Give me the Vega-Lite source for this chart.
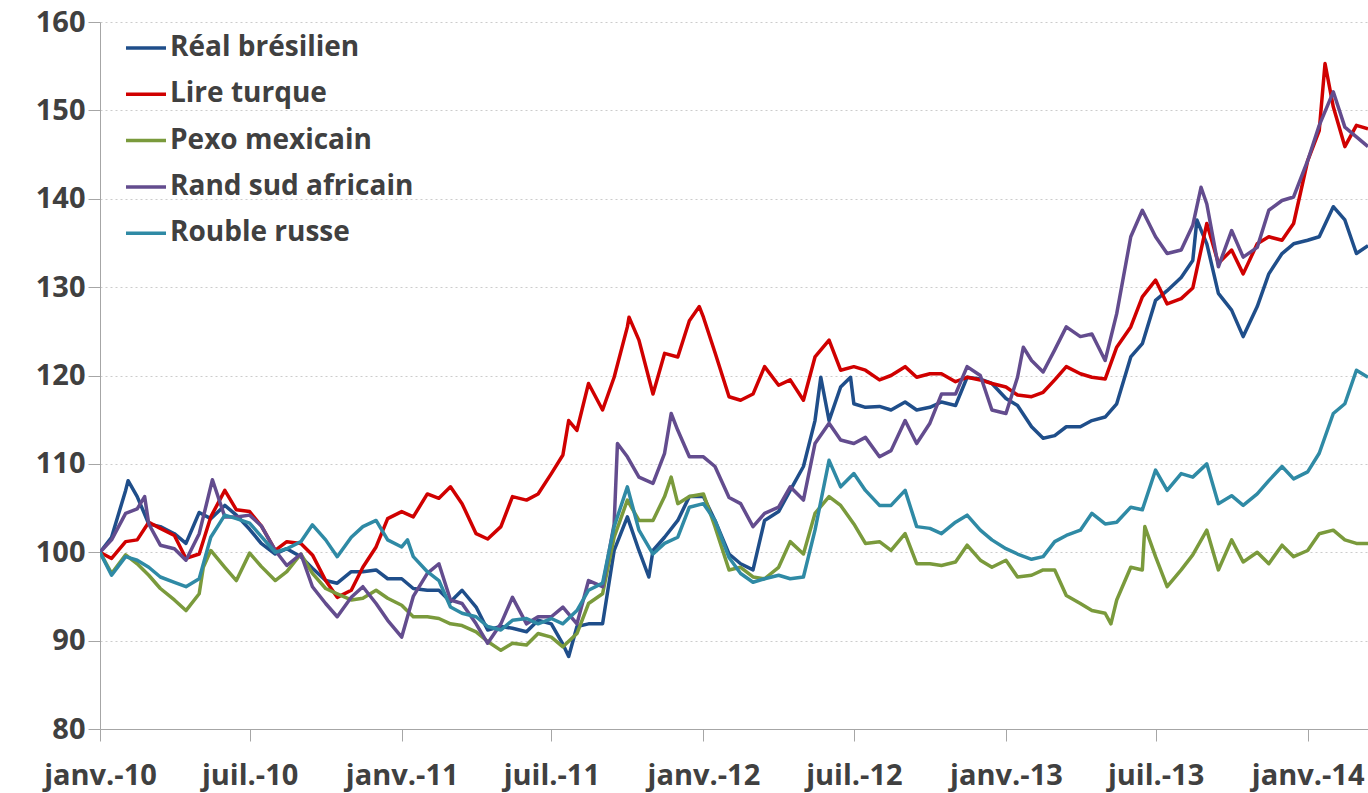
{
"$schema": "https://vega.github.io/schema/vega-lite/v6.json",
"width": 1268, "height": 707,
"autosize": {"type": "none"},
"padding": {"left": 100, "top": 22, "right": 0, "bottom": 64},
"background": "white",
"config": {"view": {"stroke": null}, "font": "Open Sans"},
"data": {"values": [
{"date":"2010-01-01","currency":"Réal brésilien","value":100},
{"date":"2010-01-15","currency":"Réal brésilien","value":101.7},
{"date":"2010-02-01","currency":"Réal brésilien","value":107},
{"date":"2010-02-04","currency":"Réal brésilien","value":108.1},
{"date":"2010-02-15","currency":"Réal brésilien","value":106.3},
{"date":"2010-03-01","currency":"Réal brésilien","value":103.2},
{"date":"2010-03-15","currency":"Réal brésilien","value":102.9},
{"date":"2010-04-01","currency":"Réal brésilien","value":102.1},
{"date":"2010-04-15","currency":"Réal brésilien","value":101},
{"date":"2010-05-01","currency":"Réal brésilien","value":104.5},
{"date":"2010-05-15","currency":"Réal brésilien","value":103.8},
{"date":"2010-06-01","currency":"Réal brésilien","value":105.3},
{"date":"2010-06-15","currency":"Réal brésilien","value":104.2},
{"date":"2010-07-01","currency":"Réal brésilien","value":102.6},
{"date":"2010-07-15","currency":"Réal brésilien","value":101},
{"date":"2010-08-01","currency":"Réal brésilien","value":99.8},
{"date":"2010-08-15","currency":"Réal brésilien","value":100.4},
{"date":"2010-09-01","currency":"Réal brésilien","value":99.5},
{"date":"2010-09-15","currency":"Réal brésilien","value":98.2},
{"date":"2010-10-01","currency":"Réal brésilien","value":96.8},
{"date":"2010-10-15","currency":"Réal brésilien","value":96.5},
{"date":"2010-11-01","currency":"Réal brésilien","value":97.8},
{"date":"2010-11-15","currency":"Réal brésilien","value":97.8},
{"date":"2010-12-01","currency":"Réal brésilien","value":98},
{"date":"2010-12-15","currency":"Réal brésilien","value":97},
{"date":"2011-01-01","currency":"Réal brésilien","value":97},
{"date":"2011-01-15","currency":"Réal brésilien","value":95.9},
{"date":"2011-02-01","currency":"Réal brésilien","value":95.7},
{"date":"2011-02-15","currency":"Réal brésilien","value":95.7},
{"date":"2011-03-01","currency":"Réal brésilien","value":94.4},
{"date":"2011-03-15","currency":"Réal brésilien","value":95.7},
{"date":"2011-04-01","currency":"Réal brésilien","value":93.8},
{"date":"2011-04-15","currency":"Réal brésilien","value":91.2},
{"date":"2011-05-01","currency":"Réal brésilien","value":91.6},
{"date":"2011-05-15","currency":"Réal brésilien","value":91.4},
{"date":"2011-06-01","currency":"Réal brésilien","value":91},
{"date":"2011-06-15","currency":"Réal brésilien","value":92.3},
{"date":"2011-07-01","currency":"Réal brésilien","value":91.9},
{"date":"2011-07-15","currency":"Réal brésilien","value":89.6},
{"date":"2011-07-22","currency":"Réal brésilien","value":88.2},
{"date":"2011-08-01","currency":"Réal brésilien","value":91.6},
{"date":"2011-08-15","currency":"Réal brésilien","value":91.9},
{"date":"2011-09-01","currency":"Réal brésilien","value":91.9},
{"date":"2011-09-15","currency":"Réal brésilien","value":100.2},
{"date":"2011-10-01","currency":"Réal brésilien","value":104},
{"date":"2011-10-15","currency":"Réal brésilien","value":100.2},
{"date":"2011-10-27","currency":"Réal brésilien","value":97.2},
{"date":"2011-11-01","currency":"Réal brésilien","value":100.2},
{"date":"2011-11-15","currency":"Réal brésilien","value":101.7},
{"date":"2011-12-01","currency":"Réal brésilien","value":103.6},
{"date":"2011-12-15","currency":"Réal brésilien","value":106.3},
{"date":"2012-01-01","currency":"Réal brésilien","value":106.3},
{"date":"2012-01-15","currency":"Réal brésilien","value":103.6},
{"date":"2012-02-01","currency":"Réal brésilien","value":99.8},
{"date":"2012-02-15","currency":"Réal brésilien","value":98.7},
{"date":"2012-03-01","currency":"Réal brésilien","value":98},
{"date":"2012-03-15","currency":"Réal brésilien","value":103.6},
{"date":"2012-04-01","currency":"Réal brésilien","value":104.6},
{"date":"2012-04-15","currency":"Réal brésilien","value":107},
{"date":"2012-05-01","currency":"Réal brésilien","value":109.7},
{"date":"2012-05-15","currency":"Réal brésilien","value":114.9},
{"date":"2012-05-22","currency":"Réal brésilien","value":119.8},
{"date":"2012-06-01","currency":"Réal brésilien","value":114.9},
{"date":"2012-06-15","currency":"Réal brésilien","value":118.7},
{"date":"2012-06-27","currency":"Réal brésilien","value":119.8},
{"date":"2012-07-01","currency":"Réal brésilien","value":116.8},
{"date":"2012-07-15","currency":"Réal brésilien","value":116.4},
{"date":"2012-08-01","currency":"Réal brésilien","value":116.5},
{"date":"2012-08-15","currency":"Réal brésilien","value":116.1},
{"date":"2012-09-01","currency":"Réal brésilien","value":117},
{"date":"2012-09-15","currency":"Réal brésilien","value":116.1},
{"date":"2012-10-01","currency":"Réal brésilien","value":116.4},
{"date":"2012-10-15","currency":"Réal brésilien","value":117},
{"date":"2012-11-01","currency":"Réal brésilien","value":116.6},
{"date":"2012-11-15","currency":"Réal brésilien","value":119.8},
{"date":"2012-12-01","currency":"Réal brésilien","value":119.6},
{"date":"2012-12-15","currency":"Réal brésilien","value":119.1},
{"date":"2013-01-01","currency":"Réal brésilien","value":117.4},
{"date":"2013-01-15","currency":"Réal brésilien","value":116.6},
{"date":"2013-02-01","currency":"Réal brésilien","value":114.2},
{"date":"2013-02-15","currency":"Réal brésilien","value":112.9},
{"date":"2013-03-01","currency":"Réal brésilien","value":113.2},
{"date":"2013-03-15","currency":"Réal brésilien","value":114.2},
{"date":"2013-04-01","currency":"Réal brésilien","value":114.2},
{"date":"2013-04-15","currency":"Réal brésilien","value":114.9},
{"date":"2013-05-01","currency":"Réal brésilien","value":115.3},
{"date":"2013-05-15","currency":"Réal brésilien","value":116.8},
{"date":"2013-06-01","currency":"Réal brésilien","value":122.1},
{"date":"2013-06-15","currency":"Réal brésilien","value":123.6},
{"date":"2013-07-01","currency":"Réal brésilien","value":128.5},
{"date":"2013-07-15","currency":"Réal brésilien","value":129.6},
{"date":"2013-08-01","currency":"Réal brésilien","value":131.1},
{"date":"2013-08-15","currency":"Réal brésilien","value":133},
{"date":"2013-08-20","currency":"Réal brésilien","value":137.6},
{"date":"2013-09-01","currency":"Réal brésilien","value":134.9},
{"date":"2013-09-15","currency":"Réal brésilien","value":129.3},
{"date":"2013-10-01","currency":"Réal brésilien","value":127.4},
{"date":"2013-10-15","currency":"Réal brésilien","value":124.4},
{"date":"2013-11-01","currency":"Réal brésilien","value":127.8},
{"date":"2013-11-15","currency":"Réal brésilien","value":131.5},
{"date":"2013-12-01","currency":"Réal brésilien","value":133.8},
{"date":"2013-12-15","currency":"Réal brésilien","value":134.9},
{"date":"2014-01-01","currency":"Réal brésilien","value":135.3},
{"date":"2014-01-15","currency":"Réal brésilien","value":135.7},
{"date":"2014-02-01","currency":"Réal brésilien","value":139.1},
{"date":"2014-02-15","currency":"Réal brésilien","value":137.6},
{"date":"2014-03-01","currency":"Réal brésilien","value":133.8},
{"date":"2014-03-15","currency":"Réal brésilien","value":134.7},

{"date":"2010-01-01","currency":"Lire turque","value":100},
{"date":"2010-01-15","currency":"Lire turque","value":99.3},
{"date":"2010-02-01","currency":"Lire turque","value":101.2},
{"date":"2010-02-15","currency":"Lire turque","value":101.4},
{"date":"2010-03-01","currency":"Lire turque","value":103.4},
{"date":"2010-03-15","currency":"Lire turque","value":102.7},
{"date":"2010-04-01","currency":"Lire turque","value":101.9},
{"date":"2010-04-15","currency":"Lire turque","value":99.3},
{"date":"2010-05-01","currency":"Lire turque","value":99.8},
{"date":"2010-05-15","currency":"Lire turque","value":104},
{"date":"2010-06-01","currency":"Lire turque","value":107},
{"date":"2010-06-15","currency":"Lire turque","value":104.8},
{"date":"2010-07-01","currency":"Lire turque","value":104.6},
{"date":"2010-07-15","currency":"Lire turque","value":103},
{"date":"2010-08-01","currency":"Lire turque","value":100.2},
{"date":"2010-08-15","currency":"Lire turque","value":101.2},
{"date":"2010-09-01","currency":"Lire turque","value":101},
{"date":"2010-09-15","currency":"Lire turque","value":99.7},
{"date":"2010-10-01","currency":"Lire turque","value":96.8},
{"date":"2010-10-15","currency":"Lire turque","value":94.9},
{"date":"2010-11-01","currency":"Lire turque","value":95.7},
{"date":"2010-11-15","currency":"Lire turque","value":98.3},
{"date":"2010-12-01","currency":"Lire turque","value":100.6},
{"date":"2010-12-15","currency":"Lire turque","value":103.8},
{"date":"2011-01-01","currency":"Lire turque","value":104.6},
{"date":"2011-01-15","currency":"Lire turque","value":104},
{"date":"2011-02-01","currency":"Lire turque","value":106.6},
{"date":"2011-02-15","currency":"Lire turque","value":106.1},
{"date":"2011-03-01","currency":"Lire turque","value":107.4},
{"date":"2011-03-15","currency":"Lire turque","value":105.5},
{"date":"2011-04-01","currency":"Lire turque","value":102.1},
{"date":"2011-04-15","currency":"Lire turque","value":101.5},
{"date":"2011-05-01","currency":"Lire turque","value":102.9},
{"date":"2011-05-15","currency":"Lire turque","value":106.3},
{"date":"2011-06-01","currency":"Lire turque","value":105.9},
{"date":"2011-06-15","currency":"Lire turque","value":106.6},
{"date":"2011-07-01","currency":"Lire turque","value":108.9},
{"date":"2011-07-15","currency":"Lire turque","value":111},
{"date":"2011-07-22","currency":"Lire turque","value":114.9},
{"date":"2011-08-01","currency":"Lire turque","value":113.8},
{"date":"2011-08-15","currency":"Lire turque","value":119.1},
{"date":"2011-09-01","currency":"Lire turque","value":116.1},
{"date":"2011-09-15","currency":"Lire turque","value":119.8},
{"date":"2011-10-01","currency":"Lire turque","value":125.5},
{"date":"2011-10-03","currency":"Lire turque","value":126.6},
{"date":"2011-10-15","currency":"Lire turque","value":124},
{"date":"2011-11-01","currency":"Lire turque","value":117.9},
{"date":"2011-11-15","currency":"Lire turque","value":122.5},
{"date":"2011-12-01","currency":"Lire turque","value":122.1},
{"date":"2011-12-15","currency":"Lire turque","value":126.2},
{"date":"2011-12-27","currency":"Lire turque","value":127.8},
{"date":"2012-01-01","currency":"Lire turque","value":126.6},
{"date":"2012-01-15","currency":"Lire turque","value":122.6},
{"date":"2012-02-01","currency":"Lire turque","value":117.6},
{"date":"2012-02-15","currency":"Lire turque","value":117.2},
{"date":"2012-03-01","currency":"Lire turque","value":117.9},
{"date":"2012-03-15","currency":"Lire turque","value":121},
{"date":"2012-04-01","currency":"Lire turque","value":118.9},
{"date":"2012-04-15","currency":"Lire turque","value":119.5},
{"date":"2012-05-01","currency":"Lire turque","value":117.2},
{"date":"2012-05-15","currency":"Lire turque","value":122.1},
{"date":"2012-06-01","currency":"Lire turque","value":124},
{"date":"2012-06-15","currency":"Lire turque","value":120.6},
{"date":"2012-07-01","currency":"Lire turque","value":121},
{"date":"2012-07-15","currency":"Lire turque","value":120.6},
{"date":"2012-08-01","currency":"Lire turque","value":119.5},
{"date":"2012-08-15","currency":"Lire turque","value":120},
{"date":"2012-09-01","currency":"Lire turque","value":121},
{"date":"2012-09-15","currency":"Lire turque","value":119.8},
{"date":"2012-10-01","currency":"Lire turque","value":120.2},
{"date":"2012-10-15","currency":"Lire turque","value":120.2},
{"date":"2012-11-01","currency":"Lire turque","value":119.3},
{"date":"2012-11-15","currency":"Lire turque","value":119.8},
{"date":"2012-12-01","currency":"Lire turque","value":119.5},
{"date":"2012-12-15","currency":"Lire turque","value":119.1},
{"date":"2013-01-01","currency":"Lire turque","value":118.7},
{"date":"2013-01-15","currency":"Lire turque","value":117.8},
{"date":"2013-02-01","currency":"Lire turque","value":117.6},
{"date":"2013-02-15","currency":"Lire turque","value":118.1},
{"date":"2013-03-01","currency":"Lire turque","value":119.5},
{"date":"2013-03-15","currency":"Lire turque","value":121},
{"date":"2013-04-01","currency":"Lire turque","value":120.2},
{"date":"2013-04-15","currency":"Lire turque","value":119.8},
{"date":"2013-05-01","currency":"Lire turque","value":119.6},
{"date":"2013-05-15","currency":"Lire turque","value":123.2},
{"date":"2013-06-01","currency":"Lire turque","value":125.5},
{"date":"2013-06-15","currency":"Lire turque","value":128.9},
{"date":"2013-07-01","currency":"Lire turque","value":130.8},
{"date":"2013-07-15","currency":"Lire turque","value":128.1},
{"date":"2013-08-01","currency":"Lire turque","value":128.7},
{"date":"2013-08-15","currency":"Lire turque","value":129.9},
{"date":"2013-09-01","currency":"Lire turque","value":137.2},
{"date":"2013-09-15","currency":"Lire turque","value":132.7},
{"date":"2013-10-01","currency":"Lire turque","value":134.2},
{"date":"2013-10-15","currency":"Lire turque","value":131.5},
{"date":"2013-11-01","currency":"Lire turque","value":134.9},
{"date":"2013-11-15","currency":"Lire turque","value":135.7},
{"date":"2013-12-01","currency":"Lire turque","value":135.3},
{"date":"2013-12-15","currency":"Lire turque","value":137.2},
{"date":"2014-01-01","currency":"Lire turque","value":144.3},
{"date":"2014-01-15","currency":"Lire turque","value":147.7},
{"date":"2014-01-22","currency":"Lire turque","value":155.3},
{"date":"2014-02-01","currency":"Lire turque","value":150.4},
{"date":"2014-02-15","currency":"Lire turque","value":145.9},
{"date":"2014-03-01","currency":"Lire turque","value":148.3},
{"date":"2014-03-15","currency":"Lire turque","value":147.9},

{"date":"2010-01-01","currency":"Pexo mexicain","value":100},
{"date":"2010-01-15","currency":"Pexo mexicain","value":97.6},
{"date":"2010-02-01","currency":"Pexo mexicain","value":99.7},
{"date":"2010-02-15","currency":"Pexo mexicain","value":98.7},
{"date":"2010-03-01","currency":"Pexo mexicain","value":97.4},
{"date":"2010-03-15","currency":"Pexo mexicain","value":95.9},
{"date":"2010-04-01","currency":"Pexo mexicain","value":94.6},
{"date":"2010-04-15","currency":"Pexo mexicain","value":93.4},
{"date":"2010-05-01","currency":"Pexo mexicain","value":95.3},
{"date":"2010-05-06","currency":"Pexo mexicain","value":98.3},
{"date":"2010-05-15","currency":"Pexo mexicain","value":100.2},
{"date":"2010-06-01","currency":"Pexo mexicain","value":98.3},
{"date":"2010-06-15","currency":"Pexo mexicain","value":96.8},
{"date":"2010-07-01","currency":"Pexo mexicain","value":99.9},
{"date":"2010-07-15","currency":"Pexo mexicain","value":98.4},
{"date":"2010-08-01","currency":"Pexo mexicain","value":96.8},
{"date":"2010-08-15","currency":"Pexo mexicain","value":97.8},
{"date":"2010-09-01","currency":"Pexo mexicain","value":99.8},
{"date":"2010-09-15","currency":"Pexo mexicain","value":97.6},
{"date":"2010-10-01","currency":"Pexo mexicain","value":95.9},
{"date":"2010-10-15","currency":"Pexo mexicain","value":95.3},
{"date":"2010-11-01","currency":"Pexo mexicain","value":94.6},
{"date":"2010-11-15","currency":"Pexo mexicain","value":94.8},
{"date":"2010-12-01","currency":"Pexo mexicain","value":95.7},
{"date":"2010-12-15","currency":"Pexo mexicain","value":94.8},
{"date":"2011-01-01","currency":"Pexo mexicain","value":94},
{"date":"2011-01-15","currency":"Pexo mexicain","value":92.7},
{"date":"2011-02-01","currency":"Pexo mexicain","value":92.7},
{"date":"2011-02-15","currency":"Pexo mexicain","value":92.5},
{"date":"2011-03-01","currency":"Pexo mexicain","value":91.9},
{"date":"2011-03-15","currency":"Pexo mexicain","value":91.7},
{"date":"2011-04-01","currency":"Pexo mexicain","value":91},
{"date":"2011-04-15","currency":"Pexo mexicain","value":89.9},
{"date":"2011-05-01","currency":"Pexo mexicain","value":88.9},
{"date":"2011-05-15","currency":"Pexo mexicain","value":89.7},
{"date":"2011-06-01","currency":"Pexo mexicain","value":89.5},
{"date":"2011-06-15","currency":"Pexo mexicain","value":90.8},
{"date":"2011-07-01","currency":"Pexo mexicain","value":90.4},
{"date":"2011-07-15","currency":"Pexo mexicain","value":89.3},
{"date":"2011-08-01","currency":"Pexo mexicain","value":90.8},
{"date":"2011-08-15","currency":"Pexo mexicain","value":94.2},
{"date":"2011-09-01","currency":"Pexo mexicain","value":95.3},
{"date":"2011-09-15","currency":"Pexo mexicain","value":101.7},
{"date":"2011-10-01","currency":"Pexo mexicain","value":105.9},
{"date":"2011-10-15","currency":"Pexo mexicain","value":103.6},
{"date":"2011-11-01","currency":"Pexo mexicain","value":103.6},
{"date":"2011-11-15","currency":"Pexo mexicain","value":106.3},
{"date":"2011-11-23","currency":"Pexo mexicain","value":108.5},
{"date":"2011-12-01","currency":"Pexo mexicain","value":105.5},
{"date":"2011-12-15","currency":"Pexo mexicain","value":106.3},
{"date":"2012-01-01","currency":"Pexo mexicain","value":106.6},
{"date":"2012-01-15","currency":"Pexo mexicain","value":102.9},
{"date":"2012-02-01","currency":"Pexo mexicain","value":98},
{"date":"2012-02-15","currency":"Pexo mexicain","value":98.3},
{"date":"2012-03-01","currency":"Pexo mexicain","value":97.2},
{"date":"2012-03-15","currency":"Pexo mexicain","value":97},
{"date":"2012-04-01","currency":"Pexo mexicain","value":98.3},
{"date":"2012-04-15","currency":"Pexo mexicain","value":101.2},
{"date":"2012-05-01","currency":"Pexo mexicain","value":99.8},
{"date":"2012-05-15","currency":"Pexo mexicain","value":104.4},
{"date":"2012-06-01","currency":"Pexo mexicain","value":106.3},
{"date":"2012-06-15","currency":"Pexo mexicain","value":105.3},
{"date":"2012-07-01","currency":"Pexo mexicain","value":103.2},
{"date":"2012-07-15","currency":"Pexo mexicain","value":101},
{"date":"2012-08-01","currency":"Pexo mexicain","value":101.2},
{"date":"2012-08-15","currency":"Pexo mexicain","value":100.2},
{"date":"2012-09-01","currency":"Pexo mexicain","value":102.1},
{"date":"2012-09-15","currency":"Pexo mexicain","value":98.7},
{"date":"2012-10-01","currency":"Pexo mexicain","value":98.7},
{"date":"2012-10-15","currency":"Pexo mexicain","value":98.5},
{"date":"2012-11-01","currency":"Pexo mexicain","value":98.9},
{"date":"2012-11-15","currency":"Pexo mexicain","value":100.8},
{"date":"2012-12-01","currency":"Pexo mexicain","value":99.1},
{"date":"2012-12-15","currency":"Pexo mexicain","value":98.3},
{"date":"2013-01-01","currency":"Pexo mexicain","value":99.1},
{"date":"2013-01-15","currency":"Pexo mexicain","value":97.2},
{"date":"2013-02-01","currency":"Pexo mexicain","value":97.4},
{"date":"2013-02-15","currency":"Pexo mexicain","value":98},
{"date":"2013-03-01","currency":"Pexo mexicain","value":98},
{"date":"2013-03-15","currency":"Pexo mexicain","value":95.1},
{"date":"2013-04-01","currency":"Pexo mexicain","value":94.2},
{"date":"2013-04-15","currency":"Pexo mexicain","value":93.4},
{"date":"2013-05-01","currency":"Pexo mexicain","value":93.1},
{"date":"2013-05-08","currency":"Pexo mexicain","value":91.9},
{"date":"2013-05-15","currency":"Pexo mexicain","value":94.6},
{"date":"2013-06-01","currency":"Pexo mexicain","value":98.3},
{"date":"2013-06-15","currency":"Pexo mexicain","value":98},
{"date":"2013-06-18","currency":"Pexo mexicain","value":102.9},
{"date":"2013-07-01","currency":"Pexo mexicain","value":99.5},
{"date":"2013-07-15","currency":"Pexo mexicain","value":96.1},
{"date":"2013-08-01","currency":"Pexo mexicain","value":98},
{"date":"2013-08-15","currency":"Pexo mexicain","value":99.7},
{"date":"2013-09-01","currency":"Pexo mexicain","value":102.5},
{"date":"2013-09-15","currency":"Pexo mexicain","value":98},
{"date":"2013-10-01","currency":"Pexo mexicain","value":101.4},
{"date":"2013-10-15","currency":"Pexo mexicain","value":98.9},
{"date":"2013-11-01","currency":"Pexo mexicain","value":100},
{"date":"2013-11-15","currency":"Pexo mexicain","value":98.7},
{"date":"2013-12-01","currency":"Pexo mexicain","value":100.8},
{"date":"2013-12-15","currency":"Pexo mexicain","value":99.5},
{"date":"2014-01-01","currency":"Pexo mexicain","value":100.2},
{"date":"2014-01-15","currency":"Pexo mexicain","value":102.1},
{"date":"2014-02-01","currency":"Pexo mexicain","value":102.5},
{"date":"2014-02-15","currency":"Pexo mexicain","value":101.4},
{"date":"2014-03-01","currency":"Pexo mexicain","value":101},
{"date":"2014-03-15","currency":"Pexo mexicain","value":101},

{"date":"2010-01-01","currency":"Rand sud africain","value":100},
{"date":"2010-01-15","currency":"Rand sud africain","value":101.4},
{"date":"2010-02-01","currency":"Rand sud africain","value":104.4},
{"date":"2010-02-15","currency":"Rand sud africain","value":104.9},
{"date":"2010-02-24","currency":"Rand sud africain","value":106.3},
{"date":"2010-03-01","currency":"Rand sud africain","value":103.2},
{"date":"2010-03-15","currency":"Rand sud africain","value":100.8},
{"date":"2010-04-01","currency":"Rand sud africain","value":100.4},
{"date":"2010-04-15","currency":"Rand sud africain","value":99.1},
{"date":"2010-05-01","currency":"Rand sud africain","value":102.1},
{"date":"2010-05-17","currency":"Rand sud africain","value":108.2},
{"date":"2010-06-01","currency":"Rand sud africain","value":104},
{"date":"2010-06-15","currency":"Rand sud africain","value":104},
{"date":"2010-07-01","currency":"Rand sud africain","value":104.2},
{"date":"2010-07-15","currency":"Rand sud africain","value":103},
{"date":"2010-08-01","currency":"Rand sud africain","value":100.2},
{"date":"2010-08-15","currency":"Rand sud africain","value":98.5},
{"date":"2010-09-01","currency":"Rand sud africain","value":99.8},
{"date":"2010-09-15","currency":"Rand sud africain","value":96.1},
{"date":"2010-10-01","currency":"Rand sud africain","value":94.2},
{"date":"2010-10-15","currency":"Rand sud africain","value":92.7},
{"date":"2010-11-01","currency":"Rand sud africain","value":94.9},
{"date":"2010-11-15","currency":"Rand sud africain","value":96.1},
{"date":"2010-12-01","currency":"Rand sud africain","value":94.2},
{"date":"2010-12-15","currency":"Rand sud africain","value":92.3},
{"date":"2011-01-01","currency":"Rand sud africain","value":90.4},
{"date":"2011-01-15","currency":"Rand sud africain","value":95},
{"date":"2011-02-01","currency":"Rand sud africain","value":97.6},
{"date":"2011-02-15","currency":"Rand sud africain","value":98.7},
{"date":"2011-03-01","currency":"Rand sud africain","value":94.6},
{"date":"2011-03-15","currency":"Rand sud africain","value":94.2},
{"date":"2011-04-01","currency":"Rand sud africain","value":91.9},
{"date":"2011-04-15","currency":"Rand sud africain","value":89.7},
{"date":"2011-05-01","currency":"Rand sud africain","value":91.9},
{"date":"2011-05-15","currency":"Rand sud africain","value":94.9},
{"date":"2011-06-01","currency":"Rand sud africain","value":91.9},
{"date":"2011-06-15","currency":"Rand sud africain","value":92.7},
{"date":"2011-07-01","currency":"Rand sud africain","value":92.7},
{"date":"2011-07-15","currency":"Rand sud africain","value":93.8},
{"date":"2011-08-01","currency":"Rand sud africain","value":91.9},
{"date":"2011-08-15","currency":"Rand sud africain","value":96.8},
{"date":"2011-09-01","currency":"Rand sud africain","value":96.1},
{"date":"2011-09-15","currency":"Rand sud africain","value":103.2},
{"date":"2011-09-19","currency":"Rand sud africain","value":112.3},
{"date":"2011-10-01","currency":"Rand sud africain","value":110.8},
{"date":"2011-10-15","currency":"Rand sud africain","value":108.5},
{"date":"2011-11-01","currency":"Rand sud africain","value":107.8},
{"date":"2011-11-15","currency":"Rand sud africain","value":111.2},
{"date":"2011-11-23","currency":"Rand sud africain","value":115.7},
{"date":"2011-12-01","currency":"Rand sud africain","value":113.8},
{"date":"2011-12-15","currency":"Rand sud africain","value":110.8},
{"date":"2012-01-01","currency":"Rand sud africain","value":110.8},
{"date":"2012-01-15","currency":"Rand sud africain","value":109.7},
{"date":"2012-02-01","currency":"Rand sud africain","value":106.2},
{"date":"2012-02-15","currency":"Rand sud africain","value":105.5},
{"date":"2012-03-01","currency":"Rand sud africain","value":102.9},
{"date":"2012-03-15","currency":"Rand sud africain","value":104.4},
{"date":"2012-04-01","currency":"Rand sud africain","value":105.1},
{"date":"2012-04-15","currency":"Rand sud africain","value":107.4},
{"date":"2012-05-01","currency":"Rand sud africain","value":105.9},
{"date":"2012-05-15","currency":"Rand sud africain","value":112.3},
{"date":"2012-06-01","currency":"Rand sud africain","value":114.6},
{"date":"2012-06-15","currency":"Rand sud africain","value":112.7},
{"date":"2012-07-01","currency":"Rand sud africain","value":112.3},
{"date":"2012-07-15","currency":"Rand sud africain","value":113},
{"date":"2012-08-01","currency":"Rand sud africain","value":110.8},
{"date":"2012-08-15","currency":"Rand sud africain","value":111.5},
{"date":"2012-09-01","currency":"Rand sud africain","value":114.9},
{"date":"2012-09-15","currency":"Rand sud africain","value":112.3},
{"date":"2012-10-01","currency":"Rand sud africain","value":114.6},
{"date":"2012-10-15","currency":"Rand sud africain","value":117.9},
{"date":"2012-11-01","currency":"Rand sud africain","value":117.9},
{"date":"2012-11-15","currency":"Rand sud africain","value":121},
{"date":"2012-12-01","currency":"Rand sud africain","value":120},
{"date":"2012-12-15","currency":"Rand sud africain","value":116.1},
{"date":"2013-01-01","currency":"Rand sud africain","value":115.7},
{"date":"2013-01-15","currency":"Rand sud africain","value":119.8},
{"date":"2013-01-22","currency":"Rand sud africain","value":123.2},
{"date":"2013-02-01","currency":"Rand sud africain","value":121.7},
{"date":"2013-02-15","currency":"Rand sud africain","value":120.4},
{"date":"2013-03-01","currency":"Rand sud africain","value":122.9},
{"date":"2013-03-15","currency":"Rand sud africain","value":125.5},
{"date":"2013-04-01","currency":"Rand sud africain","value":124.4},
{"date":"2013-04-15","currency":"Rand sud africain","value":124.7},
{"date":"2013-05-01","currency":"Rand sud africain","value":121.7},
{"date":"2013-05-15","currency":"Rand sud africain","value":127},
{"date":"2013-06-01","currency":"Rand sud africain","value":135.7},
{"date":"2013-06-15","currency":"Rand sud africain","value":138.7},
{"date":"2013-07-01","currency":"Rand sud africain","value":135.7},
{"date":"2013-07-15","currency":"Rand sud africain","value":133.8},
{"date":"2013-08-01","currency":"Rand sud africain","value":134.2},
{"date":"2013-08-15","currency":"Rand sud africain","value":137},
{"date":"2013-08-25","currency":"Rand sud africain","value":141.3},
{"date":"2013-09-01","currency":"Rand sud africain","value":139.4},
{"date":"2013-09-15","currency":"Rand sud africain","value":132.3},
{"date":"2013-10-01","currency":"Rand sud africain","value":136.4},
{"date":"2013-10-15","currency":"Rand sud africain","value":133.4},
{"date":"2013-11-01","currency":"Rand sud africain","value":134.5},
{"date":"2013-11-15","currency":"Rand sud africain","value":138.7},
{"date":"2013-12-01","currency":"Rand sud africain","value":139.8},
{"date":"2013-12-15","currency":"Rand sud africain","value":140.2},
{"date":"2014-01-01","currency":"Rand sud africain","value":144.3},
{"date":"2014-01-15","currency":"Rand sud africain","value":148.3},
{"date":"2014-02-01","currency":"Rand sud africain","value":152.1},
{"date":"2014-02-15","currency":"Rand sud africain","value":148.1},
{"date":"2014-03-01","currency":"Rand sud africain","value":147},
{"date":"2014-03-15","currency":"Rand sud africain","value":145.9},

{"date":"2010-01-01","currency":"Rouble russe","value":100},
{"date":"2010-01-15","currency":"Rouble russe","value":97.4},
{"date":"2010-02-01","currency":"Rouble russe","value":99.5},
{"date":"2010-02-15","currency":"Rouble russe","value":99.1},
{"date":"2010-03-01","currency":"Rouble russe","value":98.3},
{"date":"2010-03-15","currency":"Rouble russe","value":97.2},
{"date":"2010-04-01","currency":"Rouble russe","value":96.6},
{"date":"2010-04-15","currency":"Rouble russe","value":96.1},
{"date":"2010-05-01","currency":"Rouble russe","value":97},
{"date":"2010-05-15","currency":"Rouble russe","value":101.7},
{"date":"2010-06-01","currency":"Rouble russe","value":104.2},
{"date":"2010-06-15","currency":"Rouble russe","value":103.8},
{"date":"2010-07-01","currency":"Rouble russe","value":103.3},
{"date":"2010-07-15","currency":"Rouble russe","value":101.8},
{"date":"2010-08-01","currency":"Rouble russe","value":100},
{"date":"2010-08-15","currency":"Rouble russe","value":100.4},
{"date":"2010-09-01","currency":"Rouble russe","value":101.2},
{"date":"2010-09-15","currency":"Rouble russe","value":103.1},
{"date":"2010-10-01","currency":"Rouble russe","value":101.4},
{"date":"2010-10-15","currency":"Rouble russe","value":99.5},
{"date":"2010-11-01","currency":"Rouble russe","value":101.7},
{"date":"2010-11-15","currency":"Rouble russe","value":102.9},
{"date":"2010-12-01","currency":"Rouble russe","value":103.6},
{"date":"2010-12-15","currency":"Rouble russe","value":101.4},
{"date":"2011-01-01","currency":"Rouble russe","value":100.6},
{"date":"2011-01-08","currency":"Rouble russe","value":101.4},
{"date":"2011-01-15","currency":"Rouble russe","value":99.5},
{"date":"2011-02-01","currency":"Rouble russe","value":97.8},
{"date":"2011-02-15","currency":"Rouble russe","value":96.8},
{"date":"2011-03-01","currency":"Rouble russe","value":93.8},
{"date":"2011-03-15","currency":"Rouble russe","value":93.1},
{"date":"2011-04-01","currency":"Rouble russe","value":92.7},
{"date":"2011-04-15","currency":"Rouble russe","value":91.6},
{"date":"2011-05-01","currency":"Rouble russe","value":91.2},
{"date":"2011-05-15","currency":"Rouble russe","value":92.3},
{"date":"2011-06-01","currency":"Rouble russe","value":92.5},
{"date":"2011-06-15","currency":"Rouble russe","value":91.9},
{"date":"2011-07-01","currency":"Rouble russe","value":92.5},
{"date":"2011-07-15","currency":"Rouble russe","value":91.9},
{"date":"2011-08-01","currency":"Rouble russe","value":93.4},
{"date":"2011-08-15","currency":"Rouble russe","value":95.7},
{"date":"2011-09-01","currency":"Rouble russe","value":96.5},
{"date":"2011-09-15","currency":"Rouble russe","value":102.9},
{"date":"2011-10-01","currency":"Rouble russe","value":107.4},
{"date":"2011-10-15","currency":"Rouble russe","value":102.5},
{"date":"2011-11-01","currency":"Rouble russe","value":99.8},
{"date":"2011-11-15","currency":"Rouble russe","value":101},
{"date":"2011-12-01","currency":"Rouble russe","value":101.7},
{"date":"2011-12-15","currency":"Rouble russe","value":105.1},
{"date":"2012-01-01","currency":"Rouble russe","value":105.5},
{"date":"2012-01-15","currency":"Rouble russe","value":103.6},
{"date":"2012-02-01","currency":"Rouble russe","value":99.4},
{"date":"2012-02-15","currency":"Rouble russe","value":97.6},
{"date":"2012-03-01","currency":"Rouble russe","value":96.6},
{"date":"2012-03-15","currency":"Rouble russe","value":97},
{"date":"2012-04-01","currency":"Rouble russe","value":97.4},
{"date":"2012-04-15","currency":"Rouble russe","value":97},
{"date":"2012-05-01","currency":"Rouble russe","value":97.2},
{"date":"2012-05-15","currency":"Rouble russe","value":102.5},
{"date":"2012-06-01","currency":"Rouble russe","value":110.4},
{"date":"2012-06-15","currency":"Rouble russe","value":107.4},
{"date":"2012-07-01","currency":"Rouble russe","value":108.9},
{"date":"2012-07-15","currency":"Rouble russe","value":107},
{"date":"2012-08-01","currency":"Rouble russe","value":105.3},
{"date":"2012-08-15","currency":"Rouble russe","value":105.3},
{"date":"2012-09-01","currency":"Rouble russe","value":107},
{"date":"2012-09-15","currency":"Rouble russe","value":102.9},
{"date":"2012-10-01","currency":"Rouble russe","value":102.7},
{"date":"2012-10-15","currency":"Rouble russe","value":102.1},
{"date":"2012-11-01","currency":"Rouble russe","value":103.4},
{"date":"2012-11-15","currency":"Rouble russe","value":104.2},
{"date":"2012-12-01","currency":"Rouble russe","value":102.5},
{"date":"2012-12-15","currency":"Rouble russe","value":101.4},
{"date":"2013-01-01","currency":"Rouble russe","value":100.4},
{"date":"2013-01-15","currency":"Rouble russe","value":99.8},
{"date":"2013-02-01","currency":"Rouble russe","value":99.2},
{"date":"2013-02-15","currency":"Rouble russe","value":99.5},
{"date":"2013-03-01","currency":"Rouble russe","value":101.2},
{"date":"2013-03-15","currency":"Rouble russe","value":101.9},
{"date":"2013-04-01","currency":"Rouble russe","value":102.5},
{"date":"2013-04-15","currency":"Rouble russe","value":104.4},
{"date":"2013-05-01","currency":"Rouble russe","value":103.2},
{"date":"2013-05-15","currency":"Rouble russe","value":103.4},
{"date":"2013-06-01","currency":"Rouble russe","value":105.1},
{"date":"2013-06-15","currency":"Rouble russe","value":104.8},
{"date":"2013-07-01","currency":"Rouble russe","value":109.3},
{"date":"2013-07-15","currency":"Rouble russe","value":107},
{"date":"2013-08-01","currency":"Rouble russe","value":108.9},
{"date":"2013-08-15","currency":"Rouble russe","value":108.5},
{"date":"2013-09-01","currency":"Rouble russe","value":110},
{"date":"2013-09-15","currency":"Rouble russe","value":105.5},
{"date":"2013-10-01","currency":"Rouble russe","value":106.4},
{"date":"2013-10-15","currency":"Rouble russe","value":105.3},
{"date":"2013-11-01","currency":"Rouble russe","value":106.6},
{"date":"2013-11-15","currency":"Rouble russe","value":108.1},
{"date":"2013-12-01","currency":"Rouble russe","value":109.7},
{"date":"2013-12-15","currency":"Rouble russe","value":108.3},
{"date":"2014-01-01","currency":"Rouble russe","value":109.1},
{"date":"2014-01-15","currency":"Rouble russe","value":111.2},
{"date":"2014-02-01","currency":"Rouble russe","value":115.7},
{"date":"2014-02-15","currency":"Rouble russe","value":116.8},
{"date":"2014-03-01","currency":"Rouble russe","value":120.6},
{"date":"2014-03-15","currency":"Rouble russe","value":119.8}
]},
"mark": {"type": "line", "strokeWidth": 3.5, "clip": true, "strokeJoin": "round"},
"encoding": {
  "x": {
    "field": "date", "type": "temporal",
    "scale": {"type": "utc", "domain": [{"year": 2010, "month": 1, "date": 1, "utc": true}, {"year": 2014, "month": 3, "date": 15, "utc": true}]},
    "axis": {
      "title": null, "grid": false,
      "values": [
        {"year": 2010, "month": 1, "date": 1, "utc": true},
        {"year": 2010, "month": 7, "date": 1, "utc": true},
        {"year": 2011, "month": 1, "date": 1, "utc": true},
        {"year": 2011, "month": 7, "date": 1, "utc": true},
        {"year": 2012, "month": 1, "date": 1, "utc": true},
        {"year": 2012, "month": 7, "date": 1, "utc": true},
        {"year": 2013, "month": 1, "date": 1, "utc": true},
        {"year": 2013, "month": 7, "date": 1, "utc": true},
        {"year": 2014, "month": 1, "date": 1, "utc": true}
      ],
      "labelExpr": "(utcmonth(datum.value) == 0 ? 'janv.-' : 'juil.-') + utcFormat(datum.value, '%y')",
      "domainColor": "#a6a6a6", "domainWidth": 1,
      "tickColor": "#a6a6a6", "tickSize": 12, "tickWidth": 1,
      "labelFont": "Open Sans", "labelFontWeight": "bold", "labelFontSize": 29, "labelColor": "#404040",
      "labelPadding": 20, "labelFlush": false, "labelOverlap": false, "labelBound": false
    }
  },
  "y": {
    "field": "value", "type": "quantitative",
    "scale": {"domain": [80, 160], "nice": false, "zero": false},
    "axis": {
      "title": null, "values": [80, 90, 100, 110, 120, 130, 140, 150, 160],
      "grid": true, "gridColor": "#cccccc", "gridDash": [2, 3], "gridWidth": 1,
      "domainColor": "#a6a6a6", "domainWidth": 1,
      "tickColor": "#a6a6a6", "tickSize": 12, "tickWidth": 1,
      "labelFont": "Open Sans", "labelFontWeight": "bold", "labelFontSize": 29, "labelColor": "#404040",
      "labelPadding": 3, "labelFlush": false, "labelOverlap": false
    }
  },
  "color": {
    "field": "currency", "type": "nominal",
    "scale": {
      "domain": ["Réal brésilien", "Lire turque", "Pexo mexicain", "Rand sud africain", "Rouble russe"],
      "range": ["#1F4E8A", "#D00000", "#7A9A3C", "#634C8E", "#2F8AA5"]
    },
    "legend": {
      "title": null, "orient": "none", "legendX": 24, "legendY": 4,
      "symbolType": "stroke", "symbolSize": 1600, "symbolStrokeWidth": 3.5,
      "labelFont": "Open Sans", "labelFontWeight": "bold", "labelFontSize": 28, "labelColor": "#404040",
      "labelOffset": 2, "rowPadding": 10.3, "padding": 0, "labelLimit": 400
    }
  }
}
}
